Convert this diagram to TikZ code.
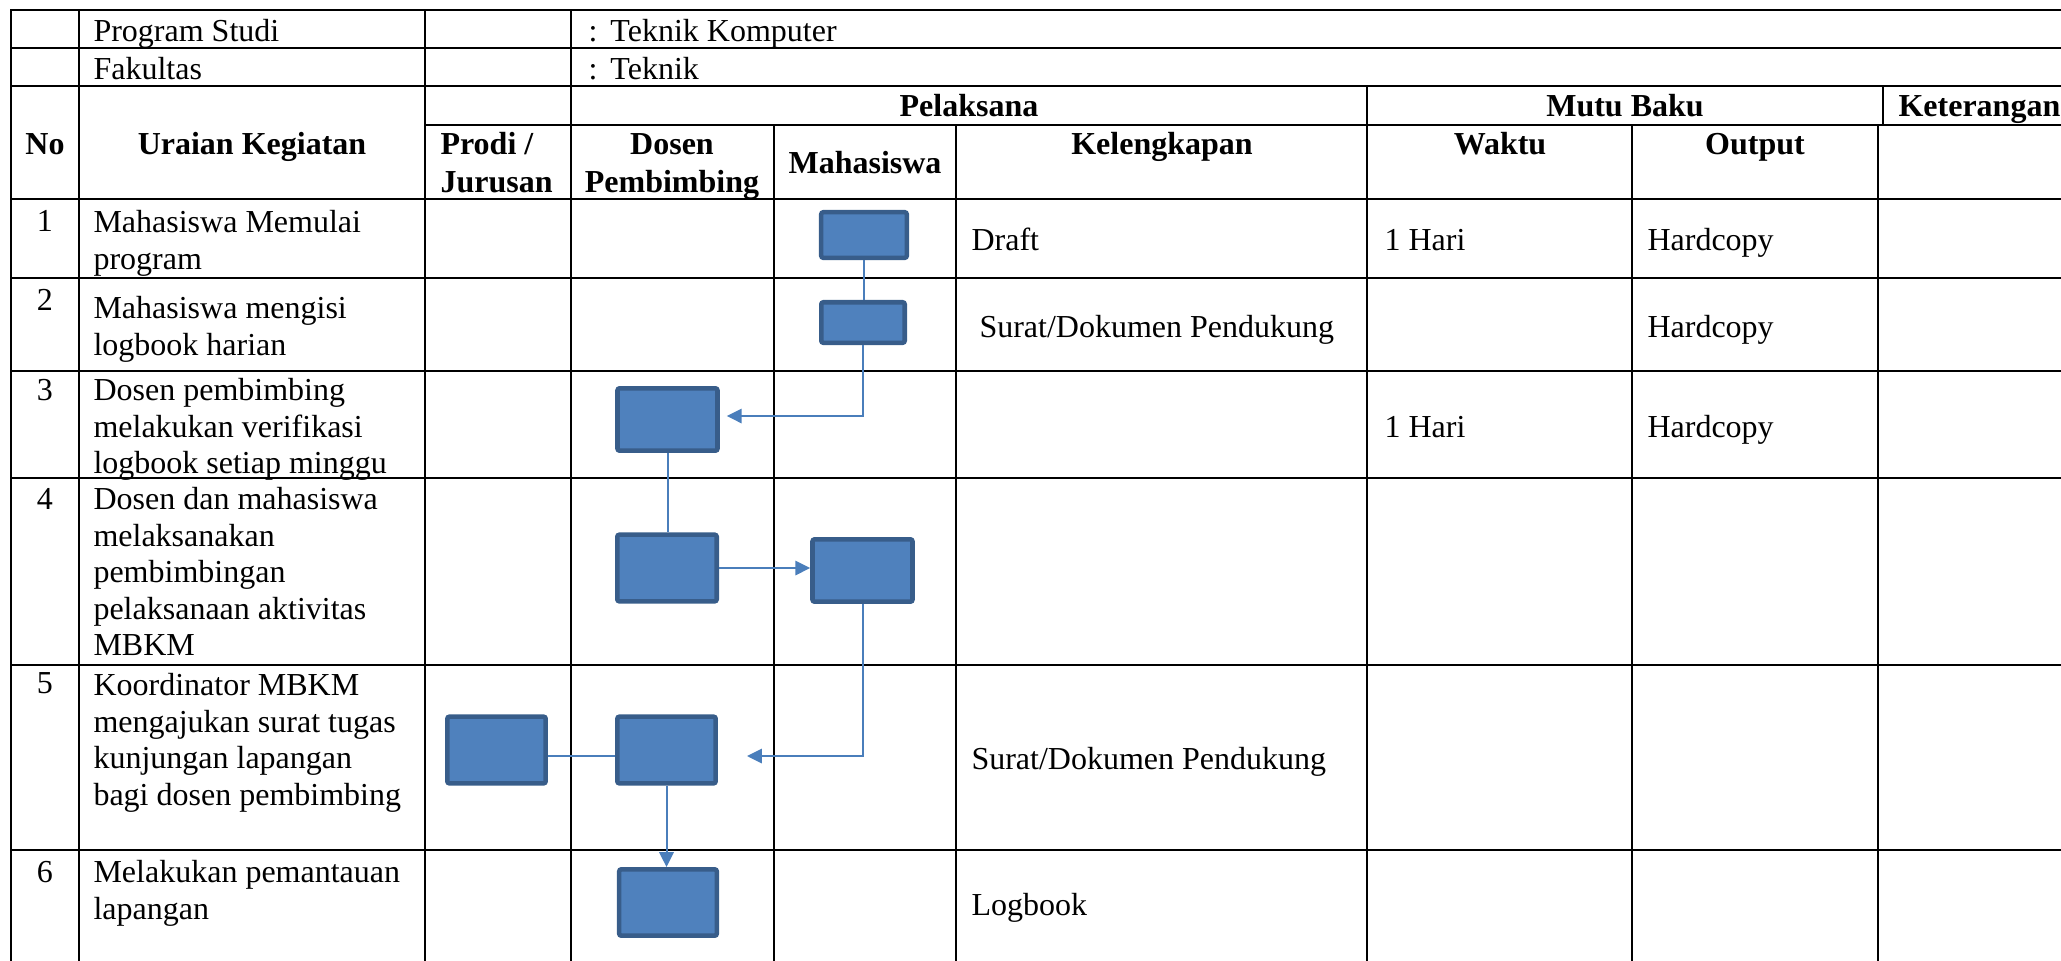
\documentclass[tikz,border=0pt]{standalone}
\usepackage{fontspec}
\setmainfont{Liberation Serif}
\usepackage{xcolor}
\usetikzlibrary{arrows.meta}

\definecolor{boxfill}{HTML}{4F81BD}
\definecolor{boxedge}{HTML}{385D8A}
\definecolor{linkblue}{HTML}{4A7EBB}

\tikzset{
  grid/.style={line width=0.9pt, line cap=rect},
  txt/.style={inner sep=0pt, font=\fontsize{12}{13.7}\selectfont},
  hdr/.style={inner sep=0pt, font=\fontsize{12}{14.2}\selectfont\bfseries},
  flowbox/.style={draw=boxedge, fill=boxfill, line width=1.7pt, rounded corners=0.8pt,
                  inner sep=0pt, minimum width=37.5pt, minimum height=25pt},
  link/.style={draw=linkblue, line width=0.75pt},
  flow/.style={link, -{Triangle[length=5.6pt,width=5.4pt]}}
}

\begin{document}
\begin{tikzpicture}[x=0.375pt, y=-0.375pt]
    \useasboundingbox (0,0) rectangle (2061,960);
    \clip (0,0) rectangle (2061,960);

    % table grid
    \foreach \y in {10,48,86,199,278,371,478,665,850}
        \draw[grid] (11,\y) -- (2075,\y);
    \draw[grid] (425,125) -- (2075,125);
    \foreach \x in {11,79,425,571}
        \draw[grid] (\x,10) -- (\x,975);
    \foreach \x in {774,956,1632,1878}
        \draw[grid] (\x,125) -- (\x,975);
    \draw[grid] (1367,86) -- (1367,975);
    \draw[grid] (1883,86) -- (1883,125);

    % header
    \node[txt, anchor=base west] (prodi) at (93,41) {Program Studi};
    \node[txt, anchor=base west] (fak) at (93,79) {Fakultas};
    \node[txt, anchor=base west] (prodival) at (588,41) {:\hspace{4.9pt}Teknik Komputer};
    \node[txt, anchor=base west] (fakval) at (588,79) {:\hspace{4.9pt}Teknik};

    \node[hdr, anchor=base] (pel) at (969,116) {Pelaksana};
    \node[hdr, anchor=base] (mutu) at (1625,116) {Mutu Baku};
    \node[hdr, anchor=base west] (ket) at (1898,116) {Keterangan};

    \node[hdr, anchor=base] (hno) at (45,154) {No};
    \node[hdr, anchor=base] (huraian) at (252,154) {Uraian Kegiatan};
    \node[hdr, anchor=north west, align=left] (hprodi) at (440,127.5) {\strut Prodi /\\Jurusan};
    \node[hdr, anchor=north, align=center] (hdosen) at (672,127.5) {\strut Dosen\\Pembimbing};
    \node[hdr, anchor=base] (hmhs) at (865,173) {Mahasiswa};
    \node[hdr, anchor=base] (hkel) at (1162,154) {Kelengkapan};
    \node[hdr, anchor=base] (hwaktu) at (1500,154) {Waktu};
    \node[hdr, anchor=base] (hout) at (1755,154) {Output};

    % nomor
    \foreach \n/\y in {1/231,2/310,3/400,4/509,5/693,6/882}
        \node[txt, anchor=base] (no\n) at (45,\y) {\n};

    % uraian kegiatan
    \node[txt, anchor=north west, align=left] (ur1) at (93,206.4) {\strut Mahasiswa Memulai\\program};
    \node[txt, anchor=north west, align=left] (ur2) at (93,292.4) {\strut Mahasiswa mengisi\\logbook harian};
    \node[txt, anchor=north west, align=left] (ur3) at (93,374.4) {\strut Dosen pembimbing\\melakukan verifikasi\\logbook setiap minggu};
    \node[txt, anchor=north west, align=left] (ur4) at (93,483.4) {\strut Dosen dan mahasiswa\\melaksanakan\\pembimbingan\\pelaksanaan aktivitas\\MBKM};
    \node[txt, anchor=north west, align=left] (ur5) at (93,669.4) {\strut Koordinator MBKM\\mengajukan surat tugas\\kunjungan lapangan\\bagi dosen pembimbing};
    \node[txt, anchor=north west, align=left] (ur6) at (93,856.4) {\strut Melakukan pemantauan\\lapangan};

    % kelengkapan, waktu, output
    \node[txt, anchor=base west] (kel1) at (971,250) {Draft};
    \node[txt, anchor=base west] (kel2) at (979,337) {Surat/Dokumen Pendukung};
    \node[txt, anchor=base west] (kel5) at (971,769) {Surat/Dokumen Pendukung};
    \node[txt, anchor=base west] (kel6) at (971,915) {Logbook};
    \node[txt, anchor=base west] (wak1) at (1384,250) {1 Hari};
    \node[txt, anchor=base west] (wak3) at (1384,437) {1 Hari};
    \node[txt, anchor=base west] (out1) at (1647,250) {Hardcopy};
    \node[txt, anchor=base west] (out2) at (1647,337) {Hardcopy};
    \node[txt, anchor=base west] (out3) at (1647,437) {Hardcopy};

    % flow boxes
    \node[flowbox, minimum width=32.1pt, minimum height=17.1pt] (m1) at (864,235) {};
    \node[flowbox, minimum width=31.3pt, minimum height=15.2pt] (m2) at (863,322.5) {};
    \node[flowbox, minimum height=23.4pt] (d3) at (667.5,419.5) {};
    \node[flowbox, minimum width=37.3pt] (d4) at (667,568) {};
    \node[flowbox, minimum height=23.4pt] (m4) at (862.5,570.5) {};
    \node[flowbox, minimum width=36.9pt] (p5) at (496.5,750) {};
    \node[flowbox, minimum width=36.9pt] (d5) at (666.5,750) {};
    \node[flowbox, minimum width=36.6pt, minimum height=24.9pt] (d6) at (668,902.5) {};

    % connectors
    \draw[link] (m1.south) -- (m1.south |- m2.north);
    \draw[flow] (m2.south) |- ([shift={(7,-3.5)}]d3.east);
    \draw[link] (d3.south) -- (d3.south |- d4.north);
    \draw[flow] (d4.east) -- (d4.east -| m4.west);
    \draw[flow] (m4.south) |- ([shift={(29,6)}]d5.east);
    \draw[link] ([shift={(0,6)}]p5.east) -- ([shift={(0,6)}]d5.west);
    \draw[flow] (d5.south) -- (d5.south |- d6.north);
\end{tikzpicture}
\end{document}
